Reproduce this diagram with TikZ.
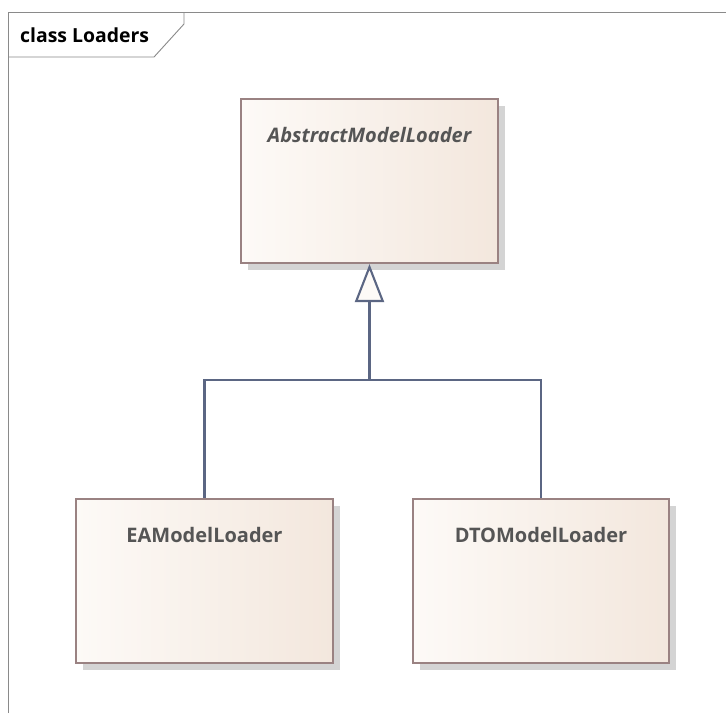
\documentclass[tikz,border=0pt]{standalone}
\usepackage{fontspec}
\setmainfont{Open Sans}
\usetikzlibrary{arrows.meta,shadows}

\definecolor{classborder}{HTML}{9A8282}
\definecolor{fillleft}{HTML}{FDFAF7}
\definecolor{fillright}{HTML}{F3E7DD}
\definecolor{linkcol}{HTML}{5B6683}
\definecolor{textcol}{HTML}{555555}
\definecolor{framecol}{HTML}{8A8A8A}

\tikzset{
  classbox/.style={draw=classborder, line width=2.1pt, rectangle,
    left color=fillleft, right color=fillright,
    minimum width=257pt, minimum height=164pt, inner sep=0pt,
    drop shadow={shadow xshift=7pt, shadow yshift=-7pt, fill=black!17, opacity=1}},
  classname/.style={text=textcol, font=\fontsize{20}{24}\selectfont\bfseries, inner sep=0pt},
  link/.style={draw=linkcol, line width=2.1pt},
  generalization/.style={link, -{Triangle[length=38pt, width=29pt, fill=fillleft, line width=2.1pt]}},
  frame/.style={draw=framecol, line width=0.9pt}
}

\begin{document}
\begin{tikzpicture}[x=1pt, y=-1pt]
  \useasboundingbox[fill=white] (0,0) rectangle (726,713);

  % diagram frame with its name tab
  \draw[frame] (8,713) -- (8,12) -- (726,12);
  \draw[frame] (8,57) -- (154,57) -- (184,24) -- (184,12);
  \node[anchor=west, inner sep=0pt, font=\fontsize{19.4}{23}\selectfont\bfseries] (title) at (20,35) {class Loaders};

  % classes
  \node[classbox] (abs) at (369.5,181) {};
  \node[classname, font=\fontsize{20}{24}\selectfont\bfseries\itshape] (absname) at (369.5,135) {AbstractModelLoader};

  \node[classbox] (ea) at (204.5,581) {};
  \node[classname] (eaname) at (204.5,535) {EAModelLoader};

  \node[classbox, minimum width=256pt] (dto) at (541,581) {};
  \node[classname] (dtoname) at (541,535) {DTOModelLoader};

  % generalization tree
  \coordinate (join) at (369.5,380);
  \draw[link] (ea.north) |- (join) -| (dto.north);
  \draw[generalization] (join) -- (abs.south);
\end{tikzpicture}
\end{document}
